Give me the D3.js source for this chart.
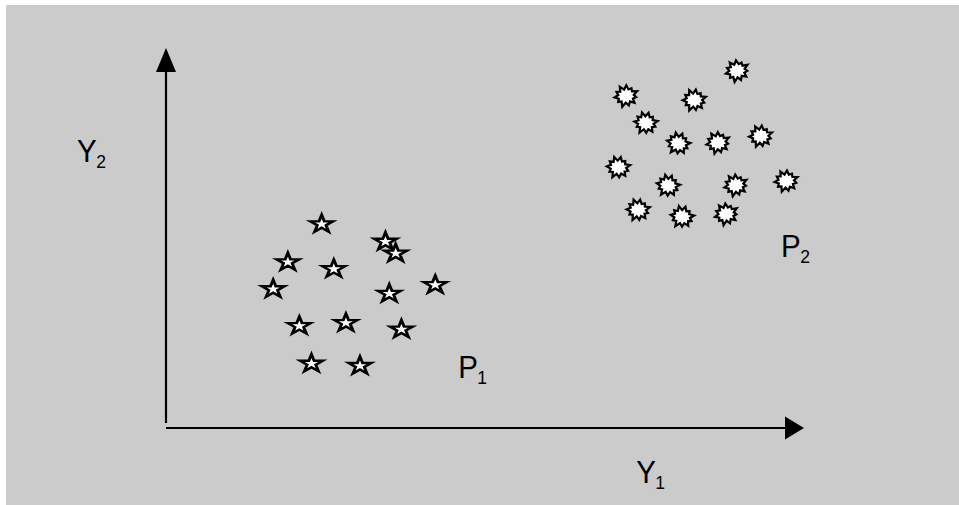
<!DOCTYPE html>
<html>
<head>
<meta charset="utf-8">
<script src="https://cdn.jsdelivr.net/npm/d3@7"></script>
<style>
html,body{margin:0;padding:0;background:#ffffff;}
svg{display:block;}
text{font-family:"Liberation Sans",Arial,sans-serif;fill:#000;}
</style>
</head>
<body>
<svg id="chart" width="959" height="505"></svg>
<script>
// ---- data (abstract units on Y1 / Y2 axes) ----
const p1X = [2.44, 3.44, 3.60, 1.91, 2.63, 1.68, 3.50, 4.22, 2.09, 2.82, 3.69, 2.28, 3.04];
const p1Y = [5.39, 4.93, 4.62, 4.39, 4.21, 3.68, 3.56, 3.79, 2.71, 2.79, 2.62, 1.72, 1.66];
const p2X = [8.95, 7.21, 8.28, 7.52, 8.03, 8.65, 9.32, 7.09, 7.87, 8.93, 9.72, 7.40, 8.09, 8.78];
const p2Y = [9.40, 8.74, 8.63, 8.03, 7.49, 7.51, 7.68, 6.86, 6.38, 6.39, 6.50, 5.74, 5.56, 5.63];
const axisLabels = ["Y", "1", "Y", "2"];
const clusterLabels = [{main:"P", sub:"1", x:4.58, y:1.32}, {main:"P", sub:"2", x:9.64, y:4.5}];
const xMax = 10, yMax = 10;

const svg = d3.select("#chart");
svg.append("rect").attr("x",6).attr("y",5).attr("width",953).attr("height",500).attr("fill","#cbcbcb");

const x = d3.scaleLinear().domain([0, xMax]).range([166, 804]);
const y = d3.scaleLinear().domain([0, yMax]).range([428, 48]);

// axes
const arrowLen = 20, arrowHalf = 11;
svg.append("line")
  .attr("x1", x(0)).attr("y1", y(0)).attr("x2", x(xMax) - arrowLen + 1).attr("y2", y(0))
  .attr("stroke","#000").attr("stroke-width",2.2);
svg.append("line")
  .attr("x1", x(0)).attr("y1", y(0) - 5).attr("x2", x(0)).attr("y2", y(yMax) + arrowLen + 3)
  .attr("stroke","#000").attr("stroke-width",2.2);
svg.append("path")
  .attr("d", `M${x(xMax)},${y(0)} L${x(xMax)-arrowLen+1},${y(0)-arrowHalf-0.5} L${x(xMax)-arrowLen+1},${y(0)+arrowHalf+0.5} Z`)
  .attr("fill","#000");
svg.append("path")
  .attr("d", `M${x(0)},${y(yMax)} L${x(0)-10},${y(yMax)+arrowLen+4} L${x(0)+10},${y(yMax)+arrowLen+4} Z`)
  .attr("fill","#000");

// stars (P1)
const star = d3.symbol().type(d3.symbolStar).size(160);
svg.append("g").selectAll("path").data(p1X.map((v,i)=>[v,p1Y[i]])).join("path")
  .attr("d", star())
  .attr("transform", d => `translate(${x(d[0])},${y(d[1])+1}) scale(1,0.78)`)
  .attr("fill","#fff").attr("stroke","#000").attr("stroke-width",3).attr("stroke-linejoin","miter");

// bursts (P2)
function burstPath(){
  const n = 11, pts = [];
  const jitter = [1.0, 0.85, 1.05, 0.9, 1.0, 0.95, 1.08, 0.88, 1.0, 0.92, 1.04];
  for (let i = 0; i < 2*n; i++){
    const a = i * Math.PI / n - Math.PI/2 + 0.15;
    const k = jitter[Math.floor(i/2)];
    const rx = i % 2 === 0 ? 11.5*k : 7.8;
    const ry = i % 2 === 0 ? 10.5*k : 6.6;
    pts.push([rx*Math.cos(a), ry*Math.sin(a)]);
  }
  return d3.line().curve(d3.curveLinearClosed)(pts);
}
const bp = burstPath();
svg.append("g").selectAll("path").data(p2X.map((v,i)=>[v,p2Y[i]])).join("path")
  .attr("d", bp)
  .attr("transform", (d,i) => `translate(${x(d[0])},${y(d[1])}) rotate(${(i*37)%30 - 15})`)
  .attr("fill","#fff").attr("stroke","#000").attr("stroke-width",2.2).attr("stroke-linejoin","miter");

// labels
function label(main, sub, px, py){
  const t = svg.append("text").attr("transform", `translate(${px},${py}) scale(1,1.06)`).attr("font-size", 29.5);
  t.append("tspan").text(main);
  t.append("tspan").attr("font-size", 17.5).attr("dy", 5.5).attr("dx", -0.5).text(sub);
}
label(axisLabels[0], axisLabels[1], x(7.37), 483);
label(axisLabels[2], axisLabels[3], 77, 162);
clusterLabels.forEach(c => label(c.main, c.sub, x(c.x), y(c.y)));
</script>
</body>
</html>
